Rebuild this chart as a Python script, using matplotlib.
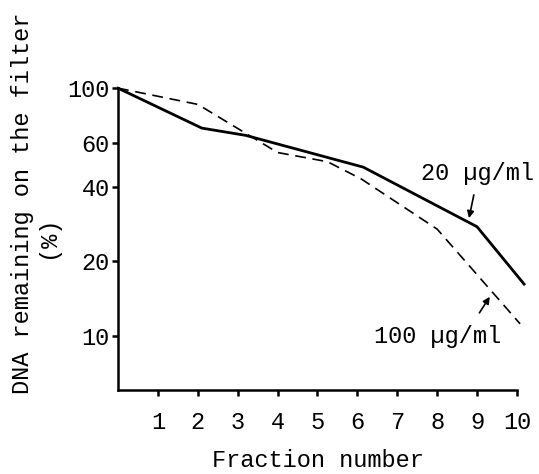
import matplotlib
matplotlib.use('Agg')
import matplotlib.pyplot as plt
from matplotlib.ticker import FixedLocator, FixedFormatter, NullLocator

# values (log scale, % remaining)
frac_20 = [0, 2.1, 3.2, 6.15, 9.0, 10.18]
dna_20 = [100, 69, 64.5, 48, 27.6, 16.2]
frac_100 = [0, 2.0, 4.0, 5.25, 6.1, 8.0, 10.08]
dna_100 = [100, 86, 55, 50.5, 43, 27, 11.2]
x_ticks = [1, 2, 3, 4, 5, 6, 7, 8, 9, 10]
y_ticks = [10, 20, 40, 60, 100]

plt.rcParams['font.family'] = ['Liberation Mono', 'DejaVu Sans Mono']
fs = 17

fig = plt.figure(figsize=(5.39, 4.74), dpi=100)
ax = fig.add_axes([0.219, 0.177, 0.740, 0.637])

ax.plot(frac_20, dna_20, color='black', lw=2.0, clip_on=False, solid_joinstyle='miter')
ax.plot(frac_100, dna_100, color='black', lw=1.2, ls=(0, (6.5, 4)), clip_on=False)

ax.set_yscale('log')
ax.set_ylim(6.05, 100)
ax.set_xlim(0, 10)
ax.yaxis.set_major_locator(FixedLocator(y_ticks))
ax.yaxis.set_major_formatter(FixedFormatter([str(v) for v in y_ticks]))
ax.yaxis.set_minor_locator(NullLocator())
ax.set_xticks(x_ticks)
ax.set_xticklabels([str(v) for v in x_ticks])

for s in ['top', 'right']:
    ax.spines[s].set_visible(False)
for s in ['left', 'bottom']:
    ax.spines[s].set_linewidth(1.8)
ax.tick_params(axis='both', direction='out', length=4, width=1.8, labelsize=fs)
ax.tick_params(axis='x', pad=11)
ax.tick_params(axis='y', pad=2)

ax.set_xlabel('Fraction number', fontsize=fs, labelpad=11)
fig.text(0.041, 1 - 203 / 474, 'DNA remaining on the filter', rotation=90,
         ha='center', va='center', fontsize=fs)
fig.text(0.089, 1 - 237 / 474, '(%)', rotation=90, ha='center', va='center', fontsize=fs)

ax.text(9.01, 45.4, '20 µg/ml', fontsize=fs, ha='center', va='center')
ax.text(8.01, 10.0, '100 µg/ml', fontsize=fs, ha='center', va='center')
ax.annotate('', xy=(8.80, 29.9), xytext=(8.92, 37.1),
            arrowprops=dict(arrowstyle='-|>', color='black', lw=1.2, mutation_scale=10,
                            shrinkA=0, shrinkB=0))
ax.annotate('', xy=(9.32, 14.4), xytext=(9.06, 12.4),
            arrowprops=dict(arrowstyle='-|>', color='black', lw=1.2, mutation_scale=10,
                            shrinkA=0, shrinkB=0))

fig.savefig('out.png', dpi=100)
